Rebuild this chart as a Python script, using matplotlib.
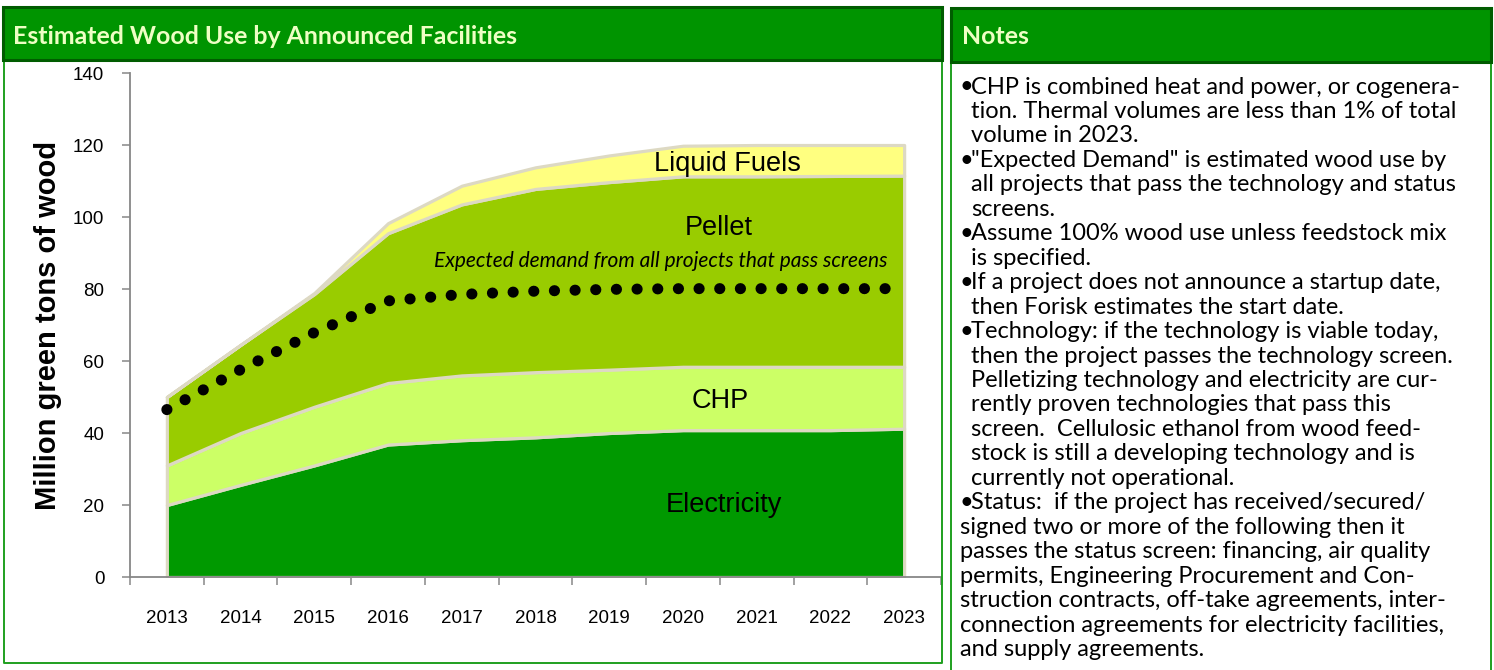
import matplotlib
matplotlib.use('Agg')
import matplotlib.pyplot as plt
from matplotlib.patches import Rectangle
from matplotlib.lines import Line2D
import numpy as np

# ---------------- data ----------------
years = ['2013', '2014', '2015', '2016', '2017', '2018', '2019', '2020', '2021', '2022', '2023']
electricity = [20.0, 25.6, 31.0, 36.8, 38.0, 38.8, 40.0, 40.8, 40.8, 40.8, 41.2]
chp = [11.0, 14.4, 16.3, 17.1, 18.0, 18.1, 17.6, 17.6, 17.6, 17.6, 17.2]
pellet = [19.0, 24.5, 31.3, 41.6, 47.5, 50.9, 52.1, 52.9, 52.9, 53.0, 53.1]
liquid_fuels = [0.0, 0.0, 0.3, 2.8, 5.2, 6.0, 7.4, 8.5, 8.7, 8.6, 8.5]
expected_demand = [46.5, 57.6, 67.9, 76.7, 78.5, 79.4, 79.9, 80.1, 80.1, 80.1, 80.1]
series_names = ['Electricity', 'CHP', 'Pellet', 'Liquid Fuels']
y_ticks = [0, 20, 40, 60, 80, 100, 120, 140]

chart_title = 'Estimated Wood Use by Announced Facilities'
notes_title = 'Notes'
y_label = 'Million green tons of wood'
annotation = 'Expected demand from all projects that pass screens'

notes_lines = [
    'CHP is combined heat and power, or cogenera-',
    'tion. Thermal volumes are less than 1% of total',
    'volume in 2023.',
    '"Expected Demand" is estimated wood use by',
    'all projects that pass the technology and status',
    'screens.',
    'Assume 100% wood use unless feedstock mix',
    'is specified.',
    'If a project does not announce a startup date,',
    'then Forisk estimates the start date.',
    'Technology: if the technology is viable today,',
    'then the project passes the technology screen.',
    'Pelletizing technology and electricity are cur-',
    'rently proven technologies that pass this',
    'screen.  Cellulosic ethanol from wood feed-',
    'stock is still a developing technology and is',
    'currently not operational.',
    'Status:  if the project has received/secured/',
    'signed two or more of the following then it',
    'passes the status screen: financing, air quality',
    'permits, Engineering Procurement and Con-',
    'struction contracts, off-take agreements, inter-',
    'connection agreements for electricity facilities,',
    'and supply agreements.',
]
# 'b' = bullet line, 'i' = indented continuation, 'n' = flush continuation
notes_kinds = ['b', 'i', 'i', 'b', 'i', 'i', 'b', 'i', 'b', 'i', 'b', 'i', 'i', 'i',
               'i', 'i', 'i', 'b', 'n', 'n', 'n', 'n', 'n', 'n']

# ---------------- styles ----------------
W, H = 1494, 670
colors = ['#009900', '#CCFF66', '#99CC00', '#FFFF80']
edge_col = '#DDD9C3'
axis_col = '#878787'
hdr_fill = '#009400'
hdr_edge = '#005C00'
hdr_text = '#EEFFC4'
panel_col = '#1FA01F'

fig = plt.figure(figsize=(W / 100, H / 100), dpi=100)
fig.patch.set_facecolor('white')
renderer = fig.canvas.get_renderer()


def fx(px):
    return px / W


def fy(py):
    return 1 - py / H


def fit(t, target_px):
    w = t.get_window_extent(renderer).width
    t.set_fontsize(t.get_fontsize() * target_px / w)


# ---------------- chart axes ----------------
ax_l, ax_r, ax_t, ax_b = 130, 941, 73, 577
ax = fig.add_axes([fx(ax_l), fy(ax_b), (ax_r - ax_l) / W, (ax_b - ax_t) / H])
x = np.arange(len(years))
ax.stackplot(x, electricity, chp, pellet, liquid_fuels, colors=colors,
             edgecolor=edge_col, linewidth=2.3, zorder=2)
ax.plot(x, expected_demand, color='black', lw=8.0, ls=(0, (0.01, 1.85)),
        dash_capstyle='round', zorder=4)

ax.set_xlim(-0.5, len(years) - 0.5)
ax.set_ylim(0, 140)
ax.set_yticks(y_ticks)
ax.set_yticklabels([str(v) for v in y_ticks], fontfamily='Liberation Sans', fontsize=13.5)
ax.set_xticks(np.arange(-0.5, len(years), 1.0))
ax.set_xticklabels([])
ax.set_xticks(x, minor=True)
ax.set_xticklabels(years, minor=True, fontfamily='Liberation Sans', fontsize=13.5)
ax.tick_params(axis='x', which='major', length=5.5, width=1.1, color=axis_col, direction='out')
ax.tick_params(axis='x', which='minor', length=0, pad=24)
ax.tick_params(axis='y', length=5.5, width=1.1, color=axis_col, direction='out', pad=13)
for s in ['top', 'right']:
    ax.spines[s].set_visible(False)
for s in ['left', 'bottom']:
    ax.spines[s].set_color(axis_col)
    ax.spines[s].set_linewidth(1.3)
    ax.spines[s].set_zorder(5)
ax.set_facecolor('none')

ax.set_ylabel(y_label, fontfamily='Liberation Sans', fontweight='bold', fontsize=21)
ax.yaxis.set_label_coords((62 - ax_l) / (ax_r - ax_l), 0.5)

lab_kw = dict(fontfamily='Liberation Sans', fontsize=19.5, ha='center', va='center', zorder=6)
ax.text(7.60, 114.8, series_names[3], **lab_kw)
ax.text(7.48, 96.9, series_names[2], **lab_kw)
ax.text(7.50, 48.9, series_names[1], **lab_kw)
ax.text(7.56, 20.0, series_names[0], **lab_kw)
ann = ax.text(6.70, 87.8, annotation, fontfamily='Lato', fontstyle='italic', fontsize=13,
              ha='center', va='center', zorder=6)
fit(ann, 453)

# ---------------- headers & panels ----------------
fig.add_artist(Rectangle((fx(3), fy(60)), (942 - 3) / W, (60 - 7) / H, transform=fig.transFigure,
                         facecolor=hdr_fill, edgecolor=hdr_edge, lw=2.2, zorder=3))
fig.add_artist(Rectangle((fx(951), fy(62)), (1491 - 951) / W, (62 - 8) / H, transform=fig.transFigure,
                         facecolor=hdr_fill, edgecolor=hdr_edge, lw=2.2, zorder=3))
t1 = fig.text(fx(13), fy(43.5), chart_title, fontfamily='Lato', fontweight='bold', fontsize=16,
              color=hdr_text, ha='left', va='baseline', zorder=4)
fit(t1, 506)
fig.text(fx(962), fy(44), notes_title, fontfamily='Lato', fontweight='bold', fontsize=t1.get_fontsize(),
         color=hdr_text, ha='left', va='baseline', zorder=4)

fig.add_artist(Line2D([fx(4), fx(4), fx(942), fx(942)], [fy(61), fy(663), fy(663), fy(61)],
                      transform=fig.transFigure, color=panel_col, lw=1.4, zorder=2))
fig.add_artist(Line2D([fx(951), fx(951)], [fy(63), fy(672)], transform=fig.transFigure,
                      color=panel_col, lw=1.4, zorder=2))
fig.add_artist(Line2D([fx(1491), fx(1491)], [fy(63), fy(672)], transform=fig.transFigure,
                      color=panel_col, lw=1.4, zorder=2))

# ---------------- notes ----------------
note_font = 'Lato'
ref = fig.text(fx(971), fy(200), notes_lines[4], fontfamily=note_font, fontsize=14)
fit(ref, 487)
nfs = ref.get_fontsize()
ref.remove()
base0, step = 93.5, (656 - 93.5) / (len(notes_lines) - 1)
for i, (line, kind) in enumerate(zip(notes_lines, notes_kinds)):
    yb = fy(base0 + i * step)
    if kind == 'b':
        fig.text(fx(959), yb, '\u2022', fontfamily=note_font, fontsize=nfs, va='baseline', ha='left')
        fig.text(fx(971), yb, line, fontfamily=note_font, fontsize=nfs, va='baseline', ha='left')
    elif kind == 'i':
        fig.text(fx(971), yb, line, fontfamily=note_font, fontsize=nfs, va='baseline', ha='left')
    else:
        fig.text(fx(960), yb, line, fontfamily=note_font, fontsize=nfs, va='baseline', ha='left')

fig.savefig('out.png', dpi=100, facecolor='white')
